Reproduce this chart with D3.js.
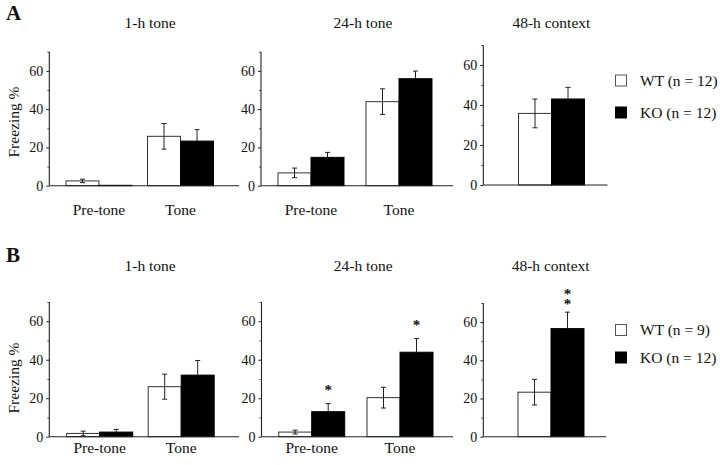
<!DOCTYPE html>
<html><head><meta charset="utf-8">
<script src="https://cdn.jsdelivr.net/npm/d3@7"></script>
<style>body{margin:0;background:#fff}svg{display:block}</style>
</head><body><svg id="c" width="720" height="465"></svg>
<script>
// ---- data ----
const panelTitles = ["1-h tone", "24-h tone", "48-h context"];
const toneCategories = ["Pre-tone", "Tone"];
const contextCategories = [""];
const groups = ["WT", "KO"];
const yTicks = [0, 20, 40, 60];
const yMinorTicks = [10, 30, 50, 70];
const legendA = ["WT (n = 12)", "KO (n = 12)"];
const legendB = ["WT (n = 9)", "KO (n = 12)"];

const a1hWT = [2.5, 25.8],  a1hWTerr = [0.9, 6.7];
const a1hKO = [0.2, 23.3],  a1hKOerr = [0, 6.0];
const a24hWT = [6.7, 43.9], a24hWTerr = [2.5, 6.7];
const a24hKO = [14.8, 55.9], a24hKOerr = [2.6, 4.0];
const a48hWT = [35.8], a48hWTerr = [7.2];
const a48hKO = [43.0], a48hKOerr = [5.8];

const b1hWT = [1.7, 26.0],  b1hWTerr = [1.2, 6.5];
const b1hKO = [2.4, 32.0],  b1hKOerr = [1.4, 7.6];
const b24hWT = [2.4, 20.3], b24hWTerr = [1.0, 5.4];
const b24hKO = [13.0, 43.9], b24hKOerr = [4.2, 7.1];
const b48hWT = [23.3], b48hWTerr = [6.7];
const b48hKO = [56.6], b48hKOerr = [8.6];
const b24hSig = ["*", "*"];
const b48hSig = ["**"];

// ---- layout ----
const FONT = "'Liberation Serif', Tinos, 'Times New Roman', 'DejaVu Serif', serif";
const svg = d3.select("#c");
function txt(sel) { return sel.append("text").attr("font-family", FONT).style("font-family", FONT).attr("fill", "#111"); }

const rows = [
  {letter: "A", letterY: 20, titleY: 28, zero: 185.7, top70: 51.7, catY: 215, ylabY: 122, legend: legendA, legY: [80.5, 112.5],
   panels: [
     {x0: 49.3, x1: 239, c0: 99, step: 81.5, cats: toneCategories, wt: a1hWT, wte: a1hWTerr, ko: a1hKO, koe: a1hKOerr},
     {x0: 261, x1: 453, c0: 311, step: 88, cats: toneCategories, wt: a24hWT, wte: a24hWTerr, ko: a24hKO, koe: a24hKOerr},
     {x0: 483.3, x1: 607.5, c0: 551.5, step: 0, cats: contextCategories, wt: a48hWT, wte: a48hWTerr, ko: a48hKO, koe: a48hKOerr, top70: 45, zero: 185}
   ]},
  {letter: "B", letterY: 261.5, titleY: 271, zero: 436.7, top70: 302, catY: 453, ylabY: 378, legend: legendB, legY: [330, 357.5],
   panels: [
     {x0: 49.3, x1: 239, c0: 99.7, step: 81.5, cats: toneCategories, wt: b1hWT, wte: b1hWTerr, ko: b1hKO, koe: b1hKOerr},
     {x0: 261.5, x1: 453, c0: 311.7, step: 88.3, cats: toneCategories, wt: b24hWT, wte: b24hWTerr, ko: b24hKO, koe: b24hKOerr, sig: b24hSig},
     {x0: 483.3, x1: 606, c0: 551, step: 0, cats: contextCategories, wt: b48hWT, wte: b48hWTerr, ko: b48hKO, koe: b48hKOerr, sig: b48hSig, top70: 303}
   ]}
];
const barW = 33;
const ink = "#222";

rows.forEach(row => {
  txt(svg).attr("x", 6).attr("y", row.letterY).attr("font-size", 21).attr("font-weight", "bold").text(row.letter);
  txt(svg).attr("transform", `translate(19,${row.ylabY}) rotate(-90)`).attr("text-anchor", "middle")
     .attr("font-size", 15.5).text("Freezing %");

  row.panels.forEach((p, pi) => {
    const zero = p.zero ?? row.zero, top70 = p.top70 ?? row.top70;
    const y = d3.scaleLinear().domain([0, 70]).range([zero, top70]);
    const n = p.cats.length;
    const step = p.step || 80;
    const x = d3.scaleBand().domain(p.cats).range([p.c0 - step / 2, p.c0 - step / 2 + step * n]).padding(0);
    const xg = d3.scaleBand().domain(groups).range([x.bandwidth() / 2 - barW, x.bandwidth() / 2 + barW]).padding(0);
    const g = svg.append("g");

    // title
    txt(g).attr("x", (p.x0 + p.x1) / 2 + 6).attr("y", row.titleY).attr("text-anchor", "middle")
      .attr("font-size", 15.5).text(panelTitles[pi]);

    // y axis
    const ax = g.append("g").attr("transform", `translate(${p.x0},0)`)
      .call(d3.axisLeft(y).tickValues(yTicks).tickSize(3).tickFormat(d3.format("d")));
    ax.attr("font-family", FONT).style("font-family", FONT);
    ax.select(".domain").remove();
    ax.selectAll(".tick line").attr("stroke", ink);
    ax.selectAll(".tick text").attr("font-family", FONT).style("font-family", FONT).attr("font-size", 14).attr("fill", "#111").attr("x", -6);
    const axm = g.append("g").attr("transform", `translate(${p.x0},0)`)
      .call(d3.axisLeft(y).tickValues(yMinorTicks).tickSize(2).tickFormat(""));
    axm.select(".domain").remove();
    axm.selectAll(".tick line").attr("stroke", "#555");
    g.append("line").attr("x1", p.x0).attr("x2", p.x0).attr("y1", y(0)).attr("y2", y(70)).attr("stroke", ink).attr("stroke-width", 1.1);

    // bars
    const data = [];
    p.cats.forEach((c, i) => {
      data.push({c, grp: "WT", v: p.wt[i], e: p.wte[i]});
      data.push({c, grp: "KO", v: p.ko[i], e: p.koe[i], sig: p.sig ? p.sig[i] : null});
    });
    const bx = d => x(d.c) + xg(d.grp);
    g.selectAll("rect.bar").data(data).join("rect")
      .attr("x", bx).attr("width", xg.bandwidth())
      .attr("y", d => y(d.v)).attr("height", d => y(0) - y(d.v))
      .attr("fill", d => d.grp === "WT" ? "#fff" : "#000")
      .attr("stroke", d => d.grp === "WT" ? "#333" : "#000").attr("stroke-width", 1);

    // error bars
    data.filter(d => d.e > 0).forEach(d => {
      const cx = bx(d) + xg.bandwidth() / 2;
      const lo = d.grp === "WT" ? d.v - d.e : d.v;
      g.append("line").attr("x1", cx).attr("x2", cx).attr("y1", y(d.v + d.e)).attr("y2", y(Math.max(lo, 0))).attr("stroke", ink).attr("stroke-width", 1);
      g.append("line").attr("x1", cx - 2.5).attr("x2", cx + 2.5).attr("y1", y(d.v + d.e)).attr("y2", y(d.v + d.e)).attr("stroke", ink);
      if (d.grp === "WT") g.append("line").attr("x1", cx - 2.5).attr("x2", cx + 2.5).attr("y1", y(lo)).attr("y2", y(lo)).attr("stroke", ink);
      if (d.sig) {
        const chars = d.sig.split("");
        const t = txt(g).attr("text-anchor", "middle").attr("font-size", 15).attr("font-weight", "bold");
        const base = chars.length > 1 ? 3.5 : 9;
        chars.forEach((ch, k) => {
          t.append("tspan").attr("x", cx)
            .attr("y", y(d.v + d.e) - base - (chars.length - 1 - k) * 9.5).text(ch);
        });
      }
    });

    // baseline
    g.append("line").attr("x1", p.x0).attr("x2", p.x1).attr("y1", y(0)).attr("y2", y(0)).attr("stroke", ink).attr("stroke-width", 1.1);

    // category labels
    p.cats.filter(c => c).forEach(c => {
      txt(g).attr("x", x(c) + x.bandwidth() / 2).attr("y", row.catY).attr("text-anchor", "middle")
        .attr("font-size", 15.5).text(c);
    });
  });

  // legend
  row.legend.forEach((t, i) => {
    const cy = row.legY[i];
    svg.append("rect").attr("x", 615.5).attr("y", cy - 5.5).attr("width", 11).attr("height", 11)
      .attr("fill", groups[i] === "WT" ? "#fff" : "#000").attr("stroke", groups[i] === "WT" ? "#555" : "#000");
    txt(svg).attr("x", 640).attr("y", cy + 5).attr("font-size", 15.5).text(t);
  });
});
</script></body></html>
